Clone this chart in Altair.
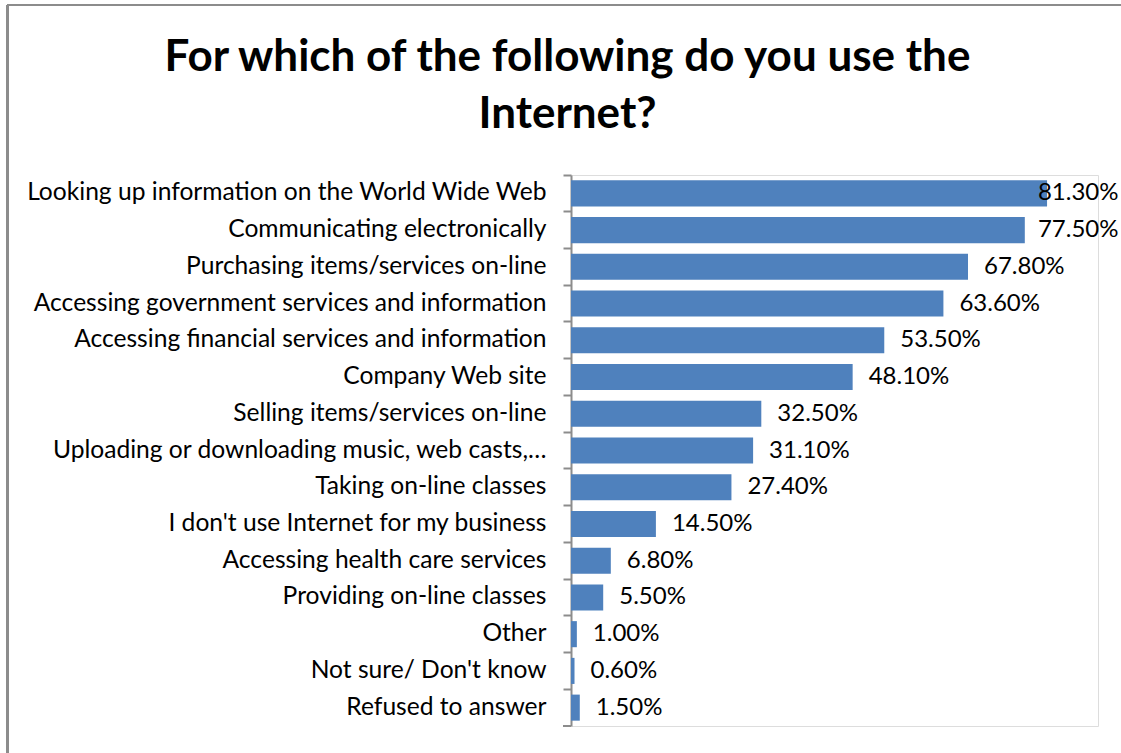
import altair as alt
import pandas as pd

# Survey answers, top to bottom, and the share of respondents for each
answers = [
    "Looking up information on the World Wide Web",
    "Communicating electronically",
    "Purchasing items/services on-line",
    "Accessing government services and information",
    "Accessing financial services and information",
    "Company Web site",
    "Selling items/services on-line",
    "Uploading or downloading music, web casts,…",
    "Taking on-line classes",
    "I don't use Internet for my business",
    "Accessing health care services",
    "Providing on-line classes",
    "Other",
    "Not sure/ Don't know",
    "Refused to answer",
]
shares = [0.813, 0.775, 0.678, 0.636, 0.535, 0.481, 0.325, 0.311,
          0.274, 0.145, 0.068, 0.055, 0.010, 0.006, 0.015]

title_lines = ["For which of the following do you use the", "Internet?"]

df = pd.DataFrame({"answer": answers, "share": shares})

W, H = 527, 551
FONT = "Lato"
GRID = "#8c8c8c"
BAR = "#4F81BD"

y_scale = alt.Scale(paddingInner=0, paddingOuter=0)
x_scale = alt.Scale(domain=[0, 0.9], nice=False)

base = alt.Chart(df)

bars = base.mark_bar(color=BAR, height=alt.RelativeBandSize(band=0.71)).encode(
    x=alt.X("share:Q", scale=x_scale,
            axis=alt.Axis(title=None, labels=False, ticks=False, domain=False,
                          grid=True, gridColor=GRID, gridWidth=2, tickCount=9)),
    y=alt.Y("answer:N", sort=answers, scale=y_scale,
            axis=alt.Axis(title=None, ticks=False, tickSize=0, domain=False,
                          grid=False, labelPadding=25, labelFont=FONT,
                          labelFontSize=24.6, labelColor="black",
                          labelLimit=700, labelAlign="right")),
)

# value labels sit just past the bar end, kept inside the chart frame
labels = base.transform_calculate(
    lx="min(datum.share, 0.77)"
).mark_text(align="left", baseline="middle", dx=16, font=FONT, fontSize=24,
            color="black").encode(
    x=alt.X("lx:Q", scale=x_scale, axis=None),
    y=alt.Y("answer:N", sort=answers, scale=y_scale, axis=None),
    text=alt.Text("share:Q", format=".2%"),
)

# category boundary ticks on the left axis line
tick_axis = base.mark_point(opacity=0).encode(
    x=alt.value(0),
    y=alt.Y("answer:N", sort=answers, scale=y_scale,
            axis=alt.Axis(title=None, labels=False, orient="left", grid=False,
                          domain=True, domainColor=GRID, domainWidth=2,
                          ticks=True, tickColor=GRID, tickWidth=2, tickSize=8,
                          bandPosition=0)),
)

end_tick = base.mark_rule(color=GRID, strokeWidth=2).encode(
    x=alt.value(-8), x2=alt.value(0), y=alt.value(H)
)

frame_left = base.mark_rule(color=GRID, strokeWidth=2).encode(
    x=alt.value(-563.5), y=alt.value(-170), y2=alt.value(H + 27)
)
frame_top = base.mark_rule(color=GRID, strokeWidth=2).encode(
    y=alt.value(-170), x=alt.value(-563.5), x2=alt.value(W + 23)
)

chart = alt.layer(bars, labels, tick_axis, end_tick, frame_left, frame_top).resolve_axis(
    y="independent"
).properties(
    width=W,
    height=H,
    padding={"left": 571, "top": 175, "right": 23, "bottom": 27},
    autosize=alt.AutoSizeParams(type="none"),
    title=alt.TitleParams(
        text=title_lines, font=FONT, fontSize=44, fontWeight="bold",
        color="black", anchor="middle", frame="group", dx=-267,
        offset=-133, lineHeight=57.5,
    ),
).configure_view(
    stroke="transparent", strokeWidth=0, strokeOpacity=0
).configure_axis(domain=False).configure(background="white")

chart.save("out.html", embed_options={"renderer": "svg", "actions": False})
